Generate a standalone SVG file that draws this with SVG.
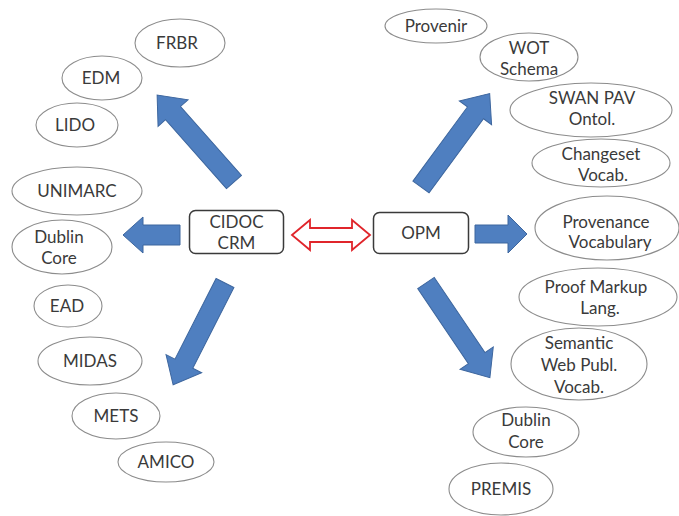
<svg xmlns="http://www.w3.org/2000/svg" width="679" height="516" viewBox="0 0 679 516">
  <defs>
    <style>
      .bg { fill: #ffffff; }
      .ell { fill: #ffffff; stroke: #8c8c8c; stroke-width: 1.1; }
      .box { fill: #ffffff; stroke: #3a3a3a; stroke-width: 1.5; }
      .lbl { font-family: Lato, "Open Sans", "Liberation Sans", sans-serif; font-size: 17px; fill: #3a3a3a; text-anchor: middle; }
      .blue { fill: #4f7fc0; stroke: #3d669e; stroke-width: 1; }
      .red { fill: #ffffff; stroke: #e0252b; stroke-width: 1.8; stroke-linejoin: miter; }
    </style>
    <!-- block arrow pointing along +x, tail at origin, length 116 -->
    <path id="diagArrow" d="M0,-10 L92,-10 L92,-20 L116,0 L92,20 L92,10 L0,10 Z"/>
  </defs>

  <rect class="bg" x="0" y="0" width="679" height="516"/>

  <!-- block arrows linking the two central models to their neighbours -->
  <g id="connectors">
    <use href="#diagArrow" class="blue" transform="translate(234,182) rotate(-131.5)"/>
    <use href="#diagArrow" class="blue" transform="translate(421,187) rotate(-53.7)"/>
    <use href="#diagArrow" class="blue" transform="translate(225,283) rotate(117) scale(0.985,1)"/>
    <use href="#diagArrow" class="blue" transform="translate(426,283) rotate(56) scale(0.985,1)"/>
    <path class="blue" d="M180,225 L143,225 L143,217 L123,235 L143,253 L143,245 L180,245 Z"/>
    <path class="blue" d="M475,225 L508,225 L508,215 L527,234 L508,253 L508,243 L475,243 Z"/>
    <path class="red" d="M292,235 L310,220 L310,228 L352,228 L352,220 L370,235 L352,250 L352,242 L310,242 L310,250 Z"/>
  </g>

  <!-- central models -->
  <g id="cidoc-crm">
    <rect class="box" x="189.5" y="210.5" width="94" height="43" rx="6"/>
    <text class="lbl" x="236.5" y="228">CIDOC</text>
    <text class="lbl" x="236.5" y="249">CRM</text>
  </g>
  <g id="opm">
    <rect class="box" x="373.5" y="212.5" width="95" height="41" rx="6"/>
    <text class="lbl" x="421" y="239">OPM</text>
  </g>

  <!-- CIDOC CRM side -->
  <g id="frbr">
    <ellipse class="ell" cx="180" cy="43" rx="45" ry="24"/>
    <text class="lbl" x="177" y="49">FRBR</text>
  </g>
  <g id="edm">
    <ellipse class="ell" cx="102" cy="78" rx="40" ry="22"/>
    <text class="lbl" x="101" y="84">EDM</text>
  </g>
  <g id="lido">
    <ellipse class="ell" cx="77" cy="125" rx="41" ry="22"/>
    <text class="lbl" x="75" y="131">LIDO</text>
  </g>
  <g id="unimarc">
    <ellipse class="ell" cx="77" cy="191" rx="65" ry="24"/>
    <text class="lbl" x="77" y="197">UNIMARC</text>
  </g>
  <g id="dublin-core-left">
    <ellipse class="ell" cx="62" cy="247" rx="50" ry="27"/>
    <text class="lbl" x="59" y="243">Dublin</text>
    <text class="lbl" x="59" y="264">Core</text>
  </g>
  <g id="ead">
    <ellipse class="ell" cx="68" cy="306" rx="34" ry="21"/>
    <text class="lbl" x="67" y="312">EAD</text>
  </g>
  <g id="midas">
    <ellipse class="ell" cx="90" cy="361" rx="52" ry="24"/>
    <text class="lbl" x="90" y="367">MIDAS</text>
  </g>
  <g id="mets">
    <ellipse class="ell" cx="116" cy="416" rx="44" ry="23"/>
    <text class="lbl" x="116" y="422">METS</text>
  </g>
  <g id="amico">
    <ellipse class="ell" cx="166" cy="462" rx="48" ry="20"/>
    <text class="lbl" x="166" y="468">AMICO</text>
  </g>

  <!-- OPM side -->
  <g id="provenir">
    <ellipse class="ell" cx="436" cy="26" rx="51" ry="17"/>
    <text class="lbl" x="436" y="32">Provenir</text>
  </g>
  <g id="wot-schema">
    <ellipse class="ell" cx="529" cy="57" rx="49" ry="24"/>
    <text class="lbl" x="529" y="54">WOT</text>
    <text class="lbl" x="529" y="75">Schema</text>
  </g>
  <g id="swan-pav">
    <ellipse class="ell" cx="591" cy="110" rx="81" ry="27"/>
    <text class="lbl" x="592" y="104">SWAN PAV</text>
    <text class="lbl" x="592" y="125">Ontol.</text>
  </g>
  <g id="changeset">
    <ellipse class="ell" cx="601" cy="163" rx="69" ry="24"/>
    <text class="lbl" x="601" y="160">Changeset</text>
    <text class="lbl" x="603" y="181">Vocab.</text>
  </g>
  <g id="provenance-vocabulary">
    <ellipse class="ell" cx="607" cy="228" rx="72" ry="32"/>
    <text class="lbl" x="606" y="228">Provenance</text>
    <text class="lbl" x="610" y="248">Vocabulary</text>
  </g>
  <g id="proof-markup">
    <ellipse class="ell" cx="598" cy="297" rx="79" ry="29"/>
    <text class="lbl" x="596" y="293">Proof Markup</text>
    <text class="lbl" x="600" y="314">Lang.</text>
  </g>
  <g id="swp-vocab">
    <ellipse class="ell" cx="579" cy="364" rx="68" ry="36"/>
    <text class="lbl" x="579" y="349">Semantic</text>
    <text class="lbl" x="579" y="371">Web Publ.</text>
    <text class="lbl" x="579" y="393">Vocab.</text>
  </g>
  <g id="dublin-core-right">
    <ellipse class="ell" cx="526" cy="432" rx="53" ry="25"/>
    <text class="lbl" x="526" y="426">Dublin</text>
    <text class="lbl" x="526" y="448">Core</text>
  </g>
  <g id="premis">
    <ellipse class="ell" cx="501" cy="489" rx="52" ry="26"/>
    <text class="lbl" x="501" y="495">PREMIS</text>
  </g>
</svg>
